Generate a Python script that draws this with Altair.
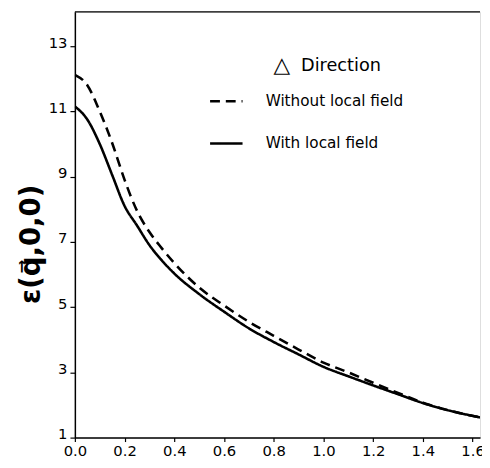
import altair as alt
import pandas as pd

q = [0.0, 0.05, 0.1, 0.15, 0.2, 0.25, 0.3, 0.35, 0.4, 0.5, 0.6, 0.7, 0.8, 0.9, 1.0, 1.1, 1.2, 1.3, 1.4, 1.5, 1.63]
eps_without = [12.12, 11.8, 11.0, 10.03, 8.9, 7.95, 7.3, 6.8, 6.35, 5.6, 5.05, 4.55, 4.12, 3.7, 3.3, 3.0, 2.68, 2.37, 2.07, 1.84, 1.62]
eps_with = [11.15, 10.75, 10.0, 9.05, 8.1, 7.5, 6.9, 6.43, 6.03, 5.4, 4.86, 4.35, 3.93, 3.55, 3.17, 2.88, 2.6, 2.33, 2.06, 1.84, 1.62]
series = ["Without local field", "With local field"]
y_ticks = [1, 3, 5, 7, 9, 11, 13]
x_ticks = [0.0, 0.2, 0.4, 0.6, 0.8, 1.0, 1.2, 1.4, 1.6]
header_symbol = ["△"]
header_text = ["Direction"]

rows = []
for s, vals in zip(series, [eps_without, eps_with]):
    for qq, v in zip(q, vals):
        rows.append({"q": qq, "eps": v, "series": s})
df = pd.DataFrame(rows)

W, H = 412, 433
FONT = "DejaVu Sans"

lines = alt.Chart(df).mark_line(color="black", strokeWidth=2.6, interpolate="monotone", clip=True).encode(
    x=alt.X("q:Q", scale=alt.Scale(domain=[0, 1.63], nice=False, zero=False),
            axis=alt.Axis(values=x_ticks, format=".1f", title=None, labelFont=FONT, labelFontSize=15,
                          labelColor="black", domainColor="black", domainWidth=1.5, tickColor="black",
                          tickSize=4, tickWidth=1.2, labelPadding=2, grid=False, labelFlush=False)),
    y=alt.Y("eps:Q", scale=alt.Scale(domain=[1, 14.05], nice=False, zero=False),
            axis=alt.Axis(values=y_ticks, title="ε(q⃗,0,0)", titleFont=FONT, titleFontSize=28,
                          titleFontWeight="bold", titleColor="black", titleX=-44, titleY=236,
                          titleAngle=270, titleAlign="center", titleBaseline="middle",
                          labelFont=FONT, labelFontSize=15, labelColor="black", domainColor="black",
                          domainWidth=1.5, tickColor="black", tickSize=5, tickWidth=1.2,
                          labelPadding=3, labelOffset=-4, grid=False, labelFlush=False)),
    strokeDash=alt.StrokeDash("series:N", scale=alt.Scale(domain=series, range=[[10, 6], [1, 0]]),
                              legend=alt.Legend(title=None, orient="none", legendX=136, legendY=73,
                                                symbolType="stroke", symbolSize=1089, symbolStrokeWidth=2.5,
                                                symbolStrokeColor="black", labelFont=FONT, labelFontSize=15.5,
                                                labelColor="black", labelOffset=22, rowPadding=16)),
)

tri = alt.Chart(pd.DataFrame({"t": header_symbol})).mark_text(
    font=FONT, fontSize=22, color="black", align="left", baseline="middle"
).encode(text="t:N", x=alt.value(202), y=alt.value(54))

head = alt.Chart(pd.DataFrame({"t": header_text})).mark_text(
    font=FONT, fontSize=18, color="black", align="left", baseline="middle"
).encode(text="t:N", x=alt.value(230), y=alt.value(55))

top = alt.Chart(pd.DataFrame({"a": [0]})).mark_rule(color="black", strokeWidth=1.3).encode(
    x=alt.value(0), x2=alt.value(W), y=alt.value(0)
)

chart = alt.layer(lines, tri, head, top).properties(
    width=W, height=H, autosize=alt.AutoSizeParams(type="none"),
    padding={"left": 68, "top": 0, "right": 2, "bottom": 25},
).configure_view(stroke=None).configure(background="white")

chart.save("out.html", embed_options={"renderer": "svg", "actions": False})
